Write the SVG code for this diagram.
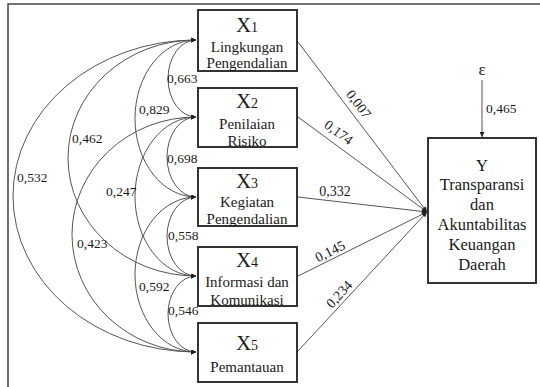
<svg xmlns="http://www.w3.org/2000/svg" width="540" height="387" viewBox="0 0 540 387">
<style>
text{font-family:"Liberation Serif","Times New Roman",serif;fill:#1a1a1a}
.box{fill:#fff;stroke:#333;stroke-width:2}
.con{fill:none;stroke:#555;stroke-width:1}
.arc{fill:none;stroke:#555;stroke-width:1;marker-start:url(#ah);marker-end:url(#ah)}
.lbl{font-size:13.5px}
.xl{font-size:21px;text-anchor:middle}
.sub{font-size:14px}
.bt{font-size:15px;text-anchor:middle}
.yt{font-size:16.5px;text-anchor:middle}
.rl{font-size:14px;text-anchor:middle}
</style>
<defs>
<marker id="ah" viewBox="0 0 10 10" refX="10" refY="5" markerWidth="7" markerHeight="5" markerUnits="userSpaceOnUse" orient="auto-start-reverse">
<path d="M0,0 L10,5 L0,10 z" fill="#222"/>
</marker>
</defs>
<rect width="540" height="387" fill="#fff"/>
<path d="M8,387 V4 H540" fill="none" stroke="#444" stroke-width="1.5"/>

<g id="connectors">
<path class="arc" d="M196,40 A28,38.5 0 0 0 196,117"/>
<path class="arc" d="M196,117 A29,40 0 0 0 196,197"/>
<path class="arc" d="M196,197 A29,39.5 0 0 0 196,276"/>
<path class="arc" d="M196,276 A28,38 0 0 0 196,352"/>
<path class="arc" d="M196,40 A61,78.5 0 0 0 196,197"/>
<path class="arc" d="M196,117 A61,79.5 0 0 0 196,276"/>
<path class="arc" d="M196,197 A61,77.5 0 0 0 196,352"/>
<path class="arc" d="M196,40 A128,118 0 0 0 196,276"/>
<path class="arc" d="M196,117 A124,117.5 0 0 0 196,352"/>
<path class="arc" d="M196,40 A183,156 0 0 0 196,352"/>
<path class="con" d="M298,42 L427,212" marker-end="url(#ah)"/>
<path class="con" d="M298,117 L427,212" marker-end="url(#ah)"/>
<path class="con" d="M298,197 L427,212" marker-end="url(#ah)"/>
<path class="con" d="M298,276 L427,212" marker-end="url(#ah)"/>
<path class="con" d="M298,351 L427,212" marker-end="url(#ah)"/>
<path class="con" d="M482,80 V137" marker-end="url(#ah)"/>
<text class="lbl" x="167" y="83">0,663</text>
<text class="lbl" x="139" y="114">0,829</text>
<text class="lbl" x="72" y="143">0,462</text>
<text class="lbl" x="17" y="182">0,532</text>
<text class="lbl" x="167" y="163">0,698</text>
<text class="lbl" x="106" y="196">0,247</text>
<text class="lbl" x="168" y="240">0,558</text>
<text class="lbl" x="77" y="248">0,423</text>
<text class="lbl" x="139" y="291">0,592</text>
<text class="lbl" x="168" y="315">0,546</text>
<text class="rl" transform="translate(359,104) rotate(52.6)" x="0" y="5">0,007</text>
<text class="rl" transform="translate(339,132) rotate(36.4)" x="0" y="5">0,174</text>
<text class="rl" x="335" y="196">0,332</text>
<text class="rl" transform="translate(330,251) rotate(-26.2)" x="0" y="5">0,145</text>
<text class="rl" transform="translate(339,294) rotate(-47.1)" x="0" y="5">0,234</text>
<text class="lbl" x="486" y="113">0,465</text>
</g>

<g id="epsilon">
<text x="482" y="75" font-size="17" text-anchor="middle">ε</text>
</g>

<g id="X1">
<rect class="box" x="198" y="10" width="99" height="61"/>
<text class="xl" x="247" y="32">X<tspan class="sub">1</tspan></text>
<text class="bt" x="247" y="52">Lingkungan</text>
<text class="bt" x="247" y="68">Pengendalian</text>
</g>
<g id="X2">
<rect class="box" x="198" y="88" width="99" height="59"/>
<text class="xl" x="247" y="108">X<tspan class="sub">2</tspan></text>
<text class="bt" x="247" y="129">Penilaian</text>
<text class="bt" x="247" y="146">Risiko</text>
</g>
<g id="X3">
<rect class="box" x="198" y="168" width="99" height="58"/>
<text class="xl" x="247" y="188">X<tspan class="sub">3</tspan></text>
<text class="bt" x="247" y="207">Kegiatan</text>
<text class="bt" x="247" y="224">Pengendalian</text>
</g>
<g id="X4">
<rect class="box" x="198" y="247" width="99" height="59"/>
<text class="xl" x="247" y="267">X<tspan class="sub">4</tspan></text>
<text class="bt" x="247" y="287">Informasi dan</text>
<text class="bt" x="247" y="305">Komunikasi</text>
</g>
<g id="X5">
<rect class="box" x="198" y="323" width="99" height="59"/>
<text class="xl" x="247" y="350">X<tspan class="sub">5</tspan></text>
<text class="bt" x="247" y="372">Pemantauan</text>
</g>
<g id="Y">
<rect class="box" x="428" y="138" width="108" height="145"/>
<text class="yt" x="482" y="171">Y</text>
<text class="yt" x="482" y="190">Transparansi</text>
<text class="yt" x="482" y="210">dan</text>
<text class="yt" x="482" y="230">Akuntabilitas</text>
<text class="yt" x="482" y="250">Keuangan</text>
<text class="yt" x="482" y="270">Daerah</text>
</g>
</svg>
